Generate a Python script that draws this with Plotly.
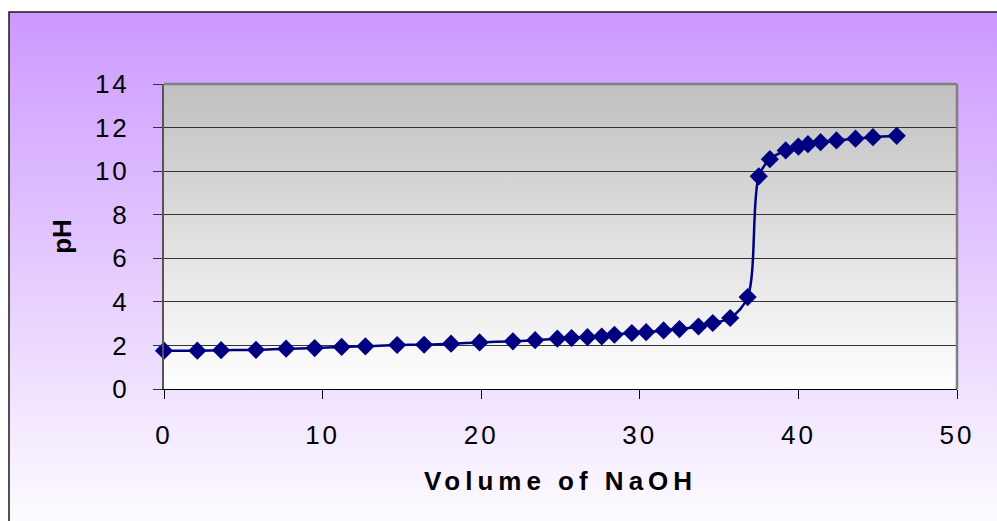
import base64
import plotly.graph_objects as go

# Titration data: volume of NaOH added vs measured pH
volume = [0, 2.1, 3.6, 5.8, 7.7, 9.5, 11.2, 12.7, 14.7, 16.4, 18.1, 19.9,
          22.0, 23.4, 24.8, 25.7, 26.7, 27.6, 28.4, 29.5, 30.4, 31.5, 32.5,
          33.7, 34.6, 35.7, 36.8, 37.5, 38.2, 39.2, 40.0, 40.6, 41.4, 42.4,
          43.6, 44.7, 46.2]
ph = [1.76, 1.76, 1.78, 1.80, 1.85, 1.88, 1.93, 1.96, 2.02, 2.03, 2.08, 2.14,
      2.19, 2.24, 2.31, 2.34, 2.38, 2.41, 2.49, 2.57, 2.61, 2.69, 2.75,
      2.87, 3.03, 3.26, 4.22, 9.76, 10.55, 10.95, 11.13, 11.24, 11.33, 11.41,
      11.49, 11.56, 11.62]

x_ticks = [0, 10, 20, 30, 40, 50]
y_ticks = [0, 2, 4, 6, 8, 10, 12, 14]

W, H = 997, 521
ML, MR, MT, MB = 164, 40, 84, 132
PW, PH = W - ML - MR, H - MT - MB

FONT = "Liberation Sans, Arial, sans-serif"
NAVY = "#000080"


def gradient_uri(top, bottom):
    svg = (
        '<svg xmlns="http://www.w3.org/2000/svg" width="100" height="100" '
        'viewBox="0 0 1 1" preserveAspectRatio="none">'
        '<defs><linearGradient id="g" x1="0" y1="0" x2="0" y2="1">'
        f'<stop offset="0" stop-color="{top}"/>'
        f'<stop offset="1" stop-color="{bottom}"/>'
        '</linearGradient></defs>'
        '<rect x="0" y="0" width="1" height="1" fill="url(#g)"/></svg>'
    )
    return "data:image/svg+xml;base64," + base64.b64encode(svg.encode()).decode()


def px_to_paper_x(px):
    return (px - ML) / PW


def px_to_paper_y(py):
    return (H - MB - py) / PH


# chart-area frame (top-left corner inside the page, runs off right/bottom)
fx0, fy0 = 9, 12
fx1, fy1 = W + 20, H + 20

fig = go.Figure()
fig.add_trace(go.Scatter(
    x=volume, y=ph,
    mode="lines+markers",
    line=dict(color=NAVY, width=2.5, shape="spline", smoothing=0.9),
    marker=dict(symbol="diamond", size=14, color=NAVY, line=dict(width=0)),
    cliponaxis=False,
    showlegend=False,
))

fig.update_layout(
    width=W, height=H,
    margin=dict(l=ML, r=MR, t=MT, b=MB, pad=0),
    paper_bgcolor="white",
    plot_bgcolor="rgba(0,0,0,0)",
    font=dict(family=FONT, color="black", size=26),
    images=[
        dict(source=gradient_uri("#CC99FF", "#FFFFFF"), xref="paper", yref="paper",
             x=px_to_paper_x(fx0), y=px_to_paper_y(fy0),
             sizex=(fx1 - fx0) / PW, sizey=(fy1 - fy0) / PH,
             xanchor="left", yanchor="top", sizing="stretch", layer="below"),
        dict(source=gradient_uri("#C0C0C0", "#FFFFFF"), xref="paper", yref="paper",
             x=0, y=1, sizex=1, sizey=1,
             xanchor="left", yanchor="top", sizing="stretch", layer="below"),
    ],
    shapes=[
        # outer frame
        dict(type="rect", xref="paper", yref="paper",
             x0=px_to_paper_x(fx0), y0=px_to_paper_y(fy1),
             x1=px_to_paper_x(fx1), y1=px_to_paper_y(fy0),
             line=dict(color="#1a1a1a", width=1.5), layer="below"),
        # plot-area border (top and right)
        dict(type="line", xref="paper", yref="paper", x0=0, x1=1, y0=1, y1=1,
             line=dict(color="#808080", width=2.5), layer="above"),
        dict(type="line", xref="paper", yref="paper", x0=1, x1=1, y0=0, y1=1,
             line=dict(color="#808080", width=2.5), layer="above"),
    ],
    xaxis=dict(
        range=[0, 50], tickvals=x_ticks, ticktext=[str(v) for v in x_ticks],
        showgrid=False, zeroline=False,
        showline=True, linecolor="black", linewidth=1.2,
        ticks="outside", ticklen=9, tickwidth=1.2, tickcolor="black",
        ticklabelstandoff=14,
        tickfont=dict(size=26, family=FONT),
        title=dict(text="<b>Volume of NaOH</b>", standoff=22,
                   font=dict(size=26, family=FONT)),
    ),
    yaxis=dict(
        range=[0, 14], tickvals=y_ticks, ticktext=[str(v) for v in y_ticks],
        showgrid=True, gridcolor="#333333", gridwidth=1,
        zeroline=False,
        showline=True, linecolor="#555555", linewidth=2,
        ticks="outside", ticklen=9, tickwidth=1.2, tickcolor="#333333",
        ticklabelstandoff=18,
        tickfont=dict(size=26, family=FONT),
        title=dict(text="<b>pH</b>", standoff=22,
                   font=dict(size=26, family=FONT)),
    ),
)

spacing_js = """
var gd = document.getElementById('{plot_id}');
function spread() {
  gd.querySelectorAll('.xtick text, .ytick text').forEach(function (t) {
    t.style.letterSpacing = '3px';
  });
  gd.querySelectorAll('.g-xtitle text').forEach(function (t) {
    t.style.letterSpacing = '5px';
  });
}
spread();
"""

fig.write_html("out.html", post_script=spacing_js)
